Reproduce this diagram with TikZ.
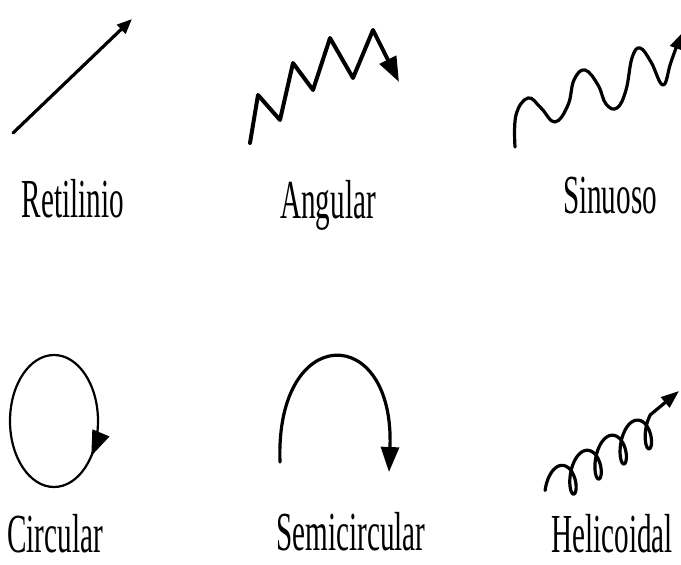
\documentclass[tikz,border=0pt]{standalone}
\usepackage{fontspec}
\newfontfamily\labelfont{Liberation Serif}[FakeStretch=0.53]
\usetikzlibrary{arrows.meta}

\tikzset{
  lbl/.style={anchor=base, inner sep=0pt, font=\labelfont\fontsize{55}{60}\selectfont},
  mov/.style={line width=3.2pt, line cap=round, line join=round},
  tipsmall/.style={-{Triangle[length=15pt,width=12pt]}},
  tipbig/.style={-{Triangle[length=25pt,width=18pt]}}
}

\begin{document}
\begin{tikzpicture}[x=1pt, y=-1pt]
\useasboundingbox (0,0) rectangle (681,565);

% names of the movements
\node[lbl] (lret) at (73,217) {Retilinio};
\node[lbl] (lang) at (328,218) {Angular};
\node[lbl] (lsin) at (610,213) {Sinuoso};
\node[lbl] (lcir) at (55,552) {Circular};
\node[lbl] (lsem) at (351,550) {Semicircular};
\node[lbl] (lhel) at (612,552) {Helicoidal};

\begin{scope}[mov]
\coordinate (retA) at (13,133);
\coordinate (retB) at (132,19);
\draw[tipsmall] (retA) -- (retB);

\draw[tipbig, line width=4pt] (250,143) -- (258,95) -- (280,120) -- (293,63) -- (313,90)
  -- (330,38) -- (353,78) -- (373,30) -- (399,82);

\draw[tipsmall] plot[smooth, tension=0.7] coordinates {(515,147) (516,115) (528,98) (541,108)
  (555,122) (568,105) (574,80) (585,70) (598,85) (606,104) (617,108) (626,90) (632,58)
  (640,48) (651,62) (663,85) (671,62) (681,34)};

\draw[tipbig] (280,462) .. controls (275,322) and (395,322) .. (389,472);

\draw[-{Triangle[length=18pt,width=13pt]}] plot[domain=-0.55*pi:7.7*pi, samples=220, variable=\t]
  ({560.4+4*\t+8.5*sin(\t r)}, {483.5-18*cos(\t r)-2.4*\t}) -- (679,391);
\end{scope}

\begin{scope}[line width=2.2pt]
\draw (54,421) ellipse [x radius=44, y radius=66];
\draw[tipbig] (54,421) ++(10:44 and 66) arc [start angle=10, end angle=32, x radius=44, y radius=66];
\end{scope}

\end{tikzpicture}
\end{document}
